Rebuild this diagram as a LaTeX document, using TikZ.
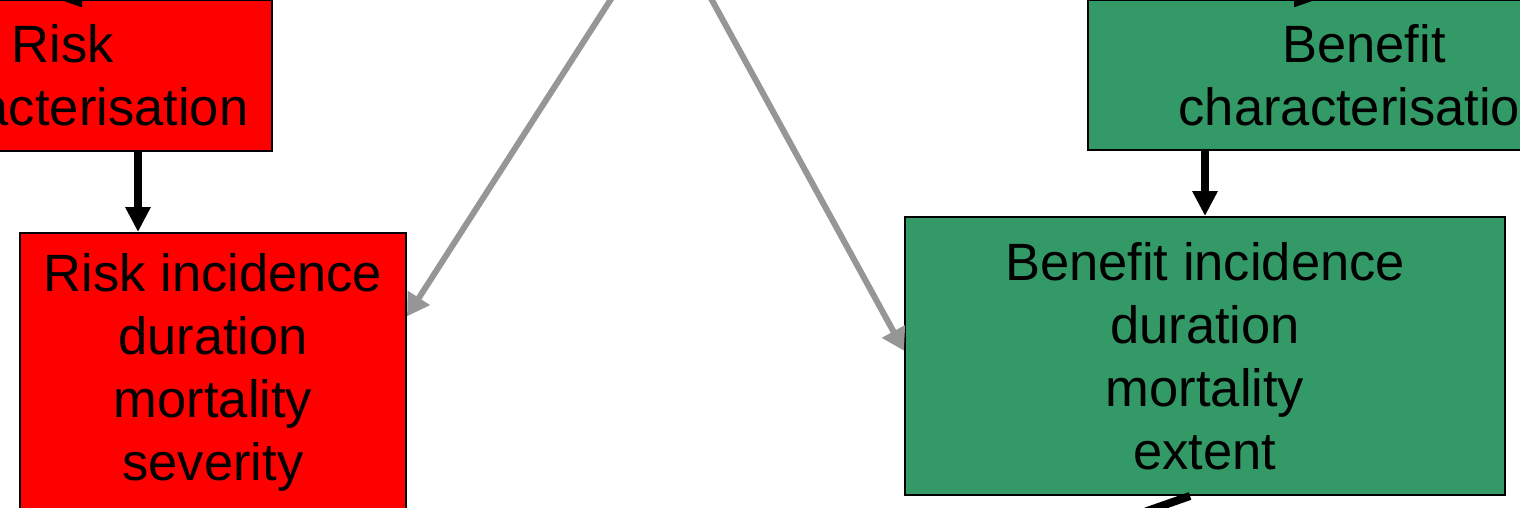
\documentclass[tikz,border=0pt]{standalone}
\usepackage{fontspec}
\setmainfont{Liberation Sans}
\usepackage{tikz}
\usetikzlibrary{arrows.meta,positioning}

\definecolor{riskred}{HTML}{FF0000}
\definecolor{benefitgreen}{HTML}{339966}
\definecolor{linkgray}{HTML}{969696}

\begin{document}
\begin{tikzpicture}[x=0.5pt,y=-0.5pt,
    box/.style={draw=black,line width=1pt,align=center,inner sep=0pt,
      font=\fontsize{26.25}{31.5}\selectfont},
    flow/.style={line width=4pt,-{Triangle[length=12.5pt,width=12pt]}},
    inflow/.style={line width=4pt,-{Triangle[length=20pt,width=12pt]}},
    link/.style={draw=linkgray,line width=3pt,-{Triangle[length=11pt,width=12.5pt]}}]
    \useasboundingbox (0,0) rectangle (1520,508);
    \fill[white] (0,0) rectangle (1520,508);
    \clip (0,0) rectangle (1520,508);

    % risk side
    \node[box,fill=riskred,minimum width=209pt,minimum height=75.5pt] (riskChar) at (63,75.5) {Risk\\characterisation};
    \node[box,fill=riskred,minimum width=193pt,minimum height=139pt] (riskInc) at (213,372) {Risk incidence\\duration\\mortality\\severity};

    % benefit side
    \node[box,fill=benefitgreen,minimum width=276pt,minimum height=75pt] (benChar) at (1364,75) {Benefit\\characterisation};
    \node[box,fill=benefitgreen,minimum width=300pt,minimum height=139pt] (benInc) at (1205,356) {Benefit incidence\\duration\\mortality\\extent};

    \coordinate (rcx) at (138,0);
    \draw[flow] (riskChar.south -| rcx) -- (riskInc.north -| rcx);
    \draw[flow] (benChar.south -| benInc.north) -- (benInc.north);

    % arrows coming in from above
    \coordinate (topL) at (300,-6);
    \coordinate (rcIn) at (42,-6);
    \coordinate (topR) at (1150,-6);
    \coordinate (bcIn) at (1334,-6);
    \draw[inflow] (topL) -- (rcIn);
    \draw[inflow] (topR) -- (bcIn);

    \coordinate (srcL) at (649,-60);
    \coordinate (srcR) at (679,-60);
    \draw[link] (srcL) -- (riskInc.16.5);
    \draw[link] (srcR) -- (benInc.179);

    % outgoing line below the benefit box
    \coordinate (benOut) at (990,566);
    \draw[line width=4pt] ([xshift=-7.5pt]benInc.south) -- (benOut);
\end{tikzpicture}
\end{document}
